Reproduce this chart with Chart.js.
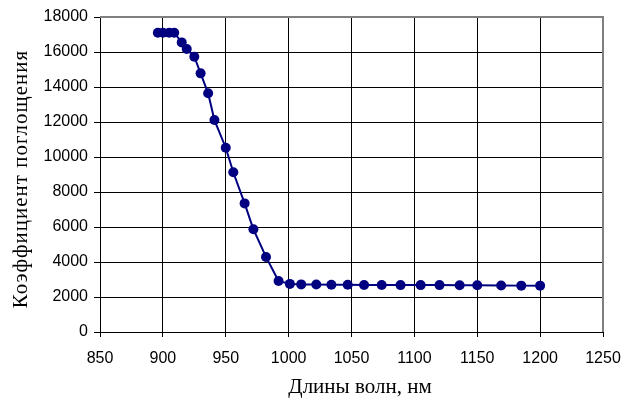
<!DOCTYPE html>
<html>
<head>
<meta charset="utf-8">
<script src="https://cdn.jsdelivr.net/npm/chart.js@4/dist/chart.umd.min.js"></script>
<style>
    html, body { margin: 0; padding: 0; background: #fff; }
    #wrap { width: 627px; height: 400px; }
</style>
</head>
<body>
<div id="wrap"><canvas id="absChart" width="627" height="400"></canvas></div>
<script>
// wavelengths, nm
const wavelength = [896, 900, 905, 909, 915, 919, 925, 930, 936, 941, 950, 956, 965, 972, 982, 992,
    1001, 1010, 1022, 1034, 1047, 1060, 1074, 1089, 1105, 1120, 1136, 1150, 1169, 1185, 1200];
// absorption coefficient
const absorption = [17100, 17100, 17100, 17100, 16550, 16170, 15730, 14780, 13640, 12110, 10530, 9130, 7350, 5870, 4290, 2910,
    2750, 2720, 2710, 2700, 2700, 2690, 2690, 2680, 2680, 2680, 2670, 2670, 2660, 2650, 2650];

const xTitle = "Длины волн, нм";
const yTitle = "Коэффициент поглощения";

const points = wavelength.map((w, i) => ({ x: w, y: absorption[i] }));

// gray frame on top and right of the plot area (excel style)
const frame = {
    id: "frame",
    beforeDatasetsDraw(chart) {
        const { ctx, chartArea: a } = chart;
        ctx.save();
        ctx.strokeStyle = "#808080";
        ctx.lineWidth = 2;
        ctx.beginPath();
        ctx.moveTo(a.left, a.top);
        ctx.lineTo(a.right, a.top);
        ctx.lineTo(a.right, a.bottom);
        ctx.stroke();
        ctx.restore();
    }
};

// axis titles drawn by hand: excel puts them a bit off the plot centre and spaces the letters
const axisTitles = {
    id: "axisTitles",
    afterDraw(chart) {
        const { ctx } = chart;
        ctx.save();
        ctx.fillStyle = "#000";
        ctx.font = "21px 'Liberation Serif'";
        ctx.textAlign = "center";
        ctx.textBaseline = "middle";
        ctx.fillText(xTitle, 360, 387);
        ctx.translate(21, 179);
        ctx.rotate(-Math.PI / 2);
        ctx.letterSpacing = "1px";
        ctx.fillText(yTitle, 0, 0);
        ctx.restore();
    }
};

const tickFont = { family: "Liberation Sans", size: 16 };

new Chart(document.getElementById("absChart").getContext("2d"), {
    type: "line",
    data: {
        datasets: [{
            data: points,
            borderColor: "#000080",
            backgroundColor: "#000080",
            borderWidth: 2,
            pointRadius: 5,
            pointBorderWidth: 0,
            tension: 0
        }]
    },
    options: {
        responsive: false,
        animation: false,
        layout: { padding: { top: 17, right: 24, left: 0, bottom: 0 } },
        plugins: { legend: { display: false }, tooltip: { enabled: false } },
        scales: {
            x: {
                type: "linear",
                min: 850,
                max: 1250,
                ticks: { stepSize: 50, color: "#000", padding: 12, font: tickFont, callback: v => String(v) },
                grid: { color: "#000", lineWidth: 1, tickLength: 5 },
                border: { color: "#000", width: 1 },
                afterFit(s) { s.height = 68; s.paddingLeft = 0; s.paddingRight = 0; }
            },
            y: {
                min: 0,
                max: 18000,
                ticks: { stepSize: 2000, color: "#000", padding: 6, font: tickFont, callback: v => String(v) },
                grid: { color: "#000", lineWidth: 1, tickLength: 6 },
                border: { color: "#000", width: 1 },
                afterFit(s) { s.width = 100; }
            }
        }
    },
    plugins: [frame, axisTitles]
});
</script>
</body>
</html>
